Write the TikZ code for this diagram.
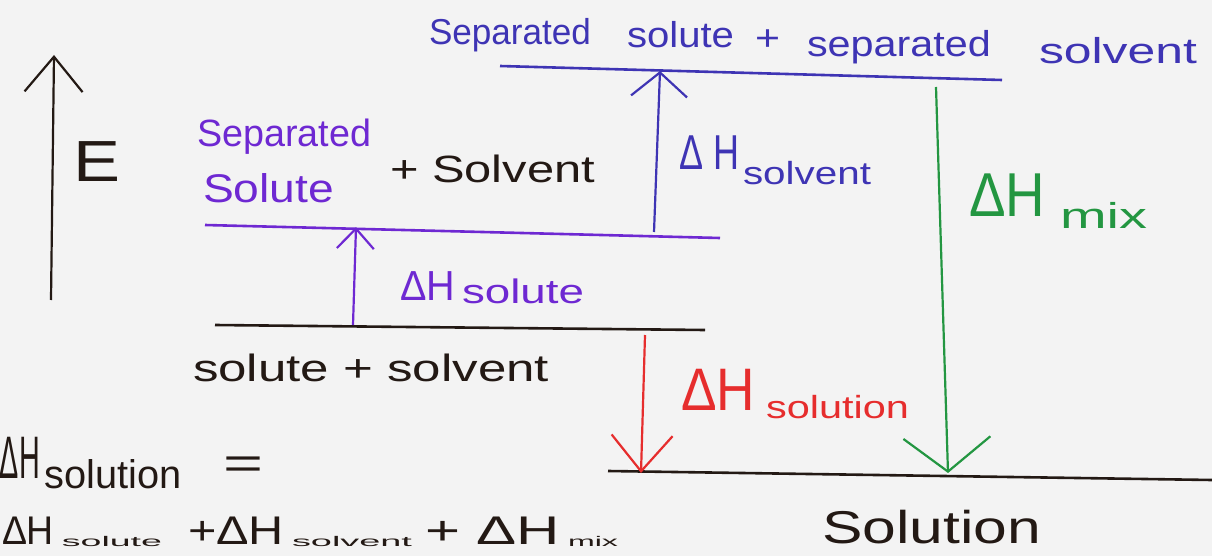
\documentclass[tikz,border=0pt]{standalone}
\usepackage{fontspec}
\usepackage{graphicx}
\setmainfont{Liberation Sans}
\usetikzlibrary{arrows.meta}
\definecolor{paper}{RGB}{243,243,243}
\definecolor{ink}{RGB}{35,25,20}
\definecolor{blueink}{RGB}{62,52,180}
\definecolor{purpleink}{RGB}{110,40,210}
\definecolor{greenink}{RGB}{35,150,65}
\definecolor{redink}{RGB}{230,45,45}
\tikzset{
  level/.style={line width=2.6pt},
  lbl/.style={anchor=base west, inner sep=0pt, outer sep=0pt},
  up/.style={line width=2.2pt},
}
\newcommand{\fitw}[3]{\resizebox{#1pt}{\height}{\fontsize{#2}{#2}\selectfont #3}}
\begin{document}
\begin{tikzpicture}[x=1pt,y=-1pt]
\useasboundingbox (0,0) rectangle (1212,556);
\fill[paper] (0,0) rectangle (1212,556);
\clip (0,0) rectangle (1212,556);

% level coordinates
\coordinate (topL) at (500,66);   \coordinate (topR) at (1002,80);
\coordinate (midL) at (205,225);  \coordinate (midR) at (720,238);
\coordinate (botL) at (215,325);  \coordinate (botR) at (705,330);
\coordinate (solL) at (608,471);  \coordinate (solR) at (1212,480);

% levels
\draw[level,blueink] (topL) -- (topR);
\draw[level,purpleink] (midL) -- (midR);
\draw[level,ink] (botL) -- (botR);
\draw[level,ink] (solL) -- (solR);

% energy axis
\coordinate (eBot) at (51,300);
\coordinate (eTop) at (54,55);
\draw[up,ink,-{Straight Barb[length=35pt,width=58pt,line width=2.2pt]}] (eBot) -- (eTop);
\node[lbl,ink] (E) at (73,182) {\fitw{47}{58}{E}};

% arrow endpoints
\coordinate (soluteA) at (353,325);  \coordinate (soluteB) at (356,227);
\coordinate (solventA) at (654,232); \coordinate (solventB) at (660,71);
\coordinate (mixA) at (936,87);      \coordinate (mixB) at (948,473);
\coordinate (solnA) at (645,335);    \coordinate (solnB) at (641,473);

\draw[up,purpleink,-{Straight Barb[length=20pt,width=37pt,line width=2.2pt]}] (soluteA) -- (soluteB);
\draw[up,blueink,-{Straight Barb[length=24pt,width=56pt,line width=2.2pt]}] (solventA) -- (solventB);
\draw[up,greenink,-{Straight Barb[length=34pt,width=87pt,line width=2.2pt]}] (mixA) -- (mixB);
\draw[up,redink,-{Straight Barb[length=36pt,width=61pt,line width=2.2pt]}] (solnA) -- (solnB);

% top level label
\node[lbl,blueink] (tw1) at (429,45) {\fitw{162}{36}{Separated}};
\node[lbl,blueink] (tw2) at (627,48) {\fitw{107}{36}{solute}};
\node[lbl,blueink] (tw3) at (755,51) {\fitw{25}{36}{+}};
\node[lbl,blueink] (tw4) at (807,57) {\fitw{184}{36}{separated}};
\node[lbl,blueink] (tw5) at (1039,64) {\fitw{158}{36}{solvent}};

% middle level label
\node[lbl,purpleink] (sep1) at (197,147) {\fitw{174}{38}{Separated}};
\node[lbl,purpleink] (sep2) at (203,203) {\fitw{131}{40}{Solute}};
\node[lbl,ink] (plusSolv) at (390,183) {\fitw{205}{38}{+ Solvent}};

% bottom level labels
\node[lbl,ink] (ssLbl) at (193,381) {\fitw{356}{38}{solute + solvent}};
\node[lbl,ink] (solnLbl) at (822,543) {\fitw{219}{46}{Solution}};

% arrow labels
\node[lbl,purpleink] (dSolute) at (400,300)
  {\fitw{55}{42}{ΔH}\hspace{7pt}\raisebox{-3pt}{\fitw{122}{34}{solute}}};
\node[lbl,blueink] (dSolvent) at (679,170)
  {\fitw{60}{49}{Δ H}\hspace{4pt}\raisebox{-15pt}{\fitw{128}{32}{solvent}}};
\node[lbl,greenink] (dMix) at (969,217)
  {\fitw{76}{62}{ΔH}\hspace{15pt}\raisebox{-11pt}{\fitw{87}{36}{mix}}};
\node[lbl,redink] (dSoln) at (681,410)
  {\fitw{74}{60}{ΔH}\hspace{11pt}\raisebox{-8pt}{\fitw{143}{32}{solution}}};

% equation
\node[lbl,ink] (eq1) at (0,478)
  {\fitw{40}{60}{ΔH}\hspace{5pt}\raisebox{-10pt}{\fitw{137}{40}{solution}}\hspace{41pt}\fitw{40}{44}{=}};
\node[lbl,ink] (eq2) at (2,544)
  {\fitw{52}{40}{ΔH}\hspace{8pt}\raisebox{-2pt}{\fitw{100}{14}{solute}}\hspace{26pt}\fitw{96}{40}{+ΔH}\hspace{8pt}\raisebox{-2pt}{\fitw{120}{14}{solvent}}\hspace{13pt}\fitw{135}{40}{+ ΔH}\hspace{8pt}\raisebox{-2pt}{\fitw{50}{14}{mix}}};
\end{tikzpicture}
\end{document}
